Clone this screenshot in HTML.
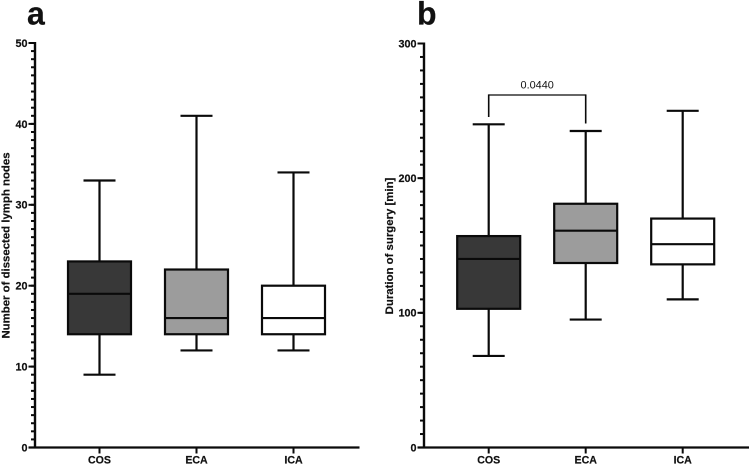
<!DOCTYPE html>
<html>
<head>
<meta charset="utf-8">
<style>
html,body{margin:0;padding:0;background:#fff;width:749px;height:466px;overflow:hidden}
svg{display:block}
text{font-family:"Liberation Sans",Arial,sans-serif;fill:#111}
.b{font-weight:bold;stroke:#111;stroke-width:0.2px}
</style>
</head>
<body>
<svg id="chart" width="749" height="466" viewBox="0 0 749 466" xmlns="http://www.w3.org/2000/svg"></svg>
<script>
const categories = ['COS', 'ECA', 'ICA'];
const fills = ['#383838', '#9c9c9c', '#ffffff'];
// each series: [min, q1, median, q3, max]
const lymphNodeStats = [
  [9, 14, 19, 23, 33],
  [12, 14, 16, 22, 41],
  [12, 14, 16, 20, 34]
];
const surgeryStats = [
  [68, 103, 140, 157, 240],
  [95, 137, 161, 181, 235],
  [110, 136, 151, 170, 250]
];
const lymphTicks = [0, 10, 20, 30, 40, 50];
const surgeryTicks = [0, 100, 200, 300];
const lymphMinorStep = 1;
const surgeryMinorStep = 10;
const significanceLabel = '0.0440';

const svg = document.getElementById('chart');
const NS = 'http://www.w3.org/2000/svg';
function make(tag, attrs, parent, text) {
  const el = document.createElementNS(NS, tag);
  for (const k in attrs) el.setAttribute(k, attrs[k]);
  if (text !== undefined) el.textContent = text;
  (parent || svg).appendChild(el);
  return el;
}
function line(x1, y1, x2, y2, w, parent) {
  return make('line', {x1, y1, x2, y2, stroke: '#0a0a0a', 'stroke-width': w}, parent);
}

function drawPanel(p) {
  const g = make('g', {}, svg);
  
  
  const yMax = p.ticks[p.ticks.length - 1];
  const yScale = v => p.y0 - v / yMax * (p.y0 - p.yTop);
  const xScale = i => p.xFirst + i * p.xStep;

  const letter = make('text', {x: p.letterX, y: 24.5, 'font-size': 32, class: 'b'}, g, p.letter);
  
  

  // minor ticks
  const minorGroup = make('g', {}, g);
  
  
  for (let v = 0; v <= yMax; v += p.minor) {
    line(p.axisX - 4, yScale(v), p.axisX, yScale(v), 2, minorGroup);
  }

  // major ticks and labels
  p.ticks.forEach(t => {
    line(p.axisX - 6.5, yScale(t), p.axisX, yScale(t), 2, g);
    const lab = make('text', {x: p.axisX - 7.5, y: yScale(t) + 3.9, 'font-size': 10.8, 'text-anchor': 'end', class: 'b'}, g, t);
    
    
  });

  // axes
  const yAxis = line(p.axisX, p.yTop - 1, p.axisX, p.y0 + 1, 2.4, g);
  
  
  const xAxis = line(p.axisX - 6.5, p.y0, p.xEnd, p.y0, 2.2, g);
  
  

  const title = make('text', {
    transform: 'translate(' + p.titleX + ',' + p.titleY + ') rotate(-90)',
    'font-size': p.titleSize, 'text-anchor': 'middle', class: 'b'
  }, g, p.title);
  
  

  categories.forEach((c, i) => {
    const x = xScale(i);
    line(x, p.y0, x, p.y0 + 6, 2, g);
    const lab = make('text', {x, y: 463.3, 'font-size': 10.6, 'text-anchor': 'middle', class: 'b'}, g, c);
    
    

    const s = p.stats[i];
    const box = make('g', {}, g);
    
    
    line(x, yScale(s[4]), x, yScale(s[3]), 2.2, box);
    line(x, yScale(s[1]), x, yScale(s[0]), 2.2, box);
    line(x - 16, yScale(s[4]), x + 16, yScale(s[4]), 2.2, box);
    line(x - 16, yScale(s[0]), x + 16, yScale(s[0]), 2.2, box);
    make('rect', {
      x: x - 31.5, y: yScale(s[3]), width: 63, height: yScale(s[1]) - yScale(s[3]),
      fill: fills[i], stroke: '#0a0a0a', 'stroke-width': 2.2
    }, box);
    line(x - 31.5, yScale(s[2]), x + 31.5, yScale(s[2]), 2.1, box);
  });
  return {xScale, yScale, g};
}

drawPanel({
  name: 'lymph-nodes', letter: 'a', letterX: 27, axisX: 35, y0: 447.5, yTop: 43,
  xFirst: 99.5, xStep: 97, xEnd: 359.5, ticks: lymphTicks, minor: lymphMinorStep,
  stats: lymphNodeStats, title: 'Number of dissected lymph nodes',
  titleX: 9.5, titleY: 245.5, titleSize: 11.4
});
const right = drawPanel({
  name: 'surgery-duration', letter: 'b', letterX: 417, axisX: 424, y0: 447.5, yTop: 43.5,
  xFirst: 488.7, xStep: 97, xEnd: 749, ticks: surgeryTicks, minor: surgeryMinorStep,
  stats: surgeryStats, title: 'Duration of surgery [min]',
  titleX: 393, titleY: 246, titleSize: 11.4
});

// significance bracket between COS and ECA
const bracket = make('g', {}, right.g);


const bx1 = right.xScale(0), bx2 = right.xScale(1), bTop = 95;
line(bx1, bTop, bx2, bTop, 1.3, bracket);
line(bx1, bTop - 0.6, bx1, 117, 1.6, bracket);
line(bx2, bTop - 0.6, bx2, 123.5, 1.6, bracket);
const sig = make('text', {x: (bx1 + bx2) / 2, y: 88.7, 'font-size': 10.9, 'text-anchor': 'middle'}, bracket, significanceLabel);


</script>
</body>
</html>
